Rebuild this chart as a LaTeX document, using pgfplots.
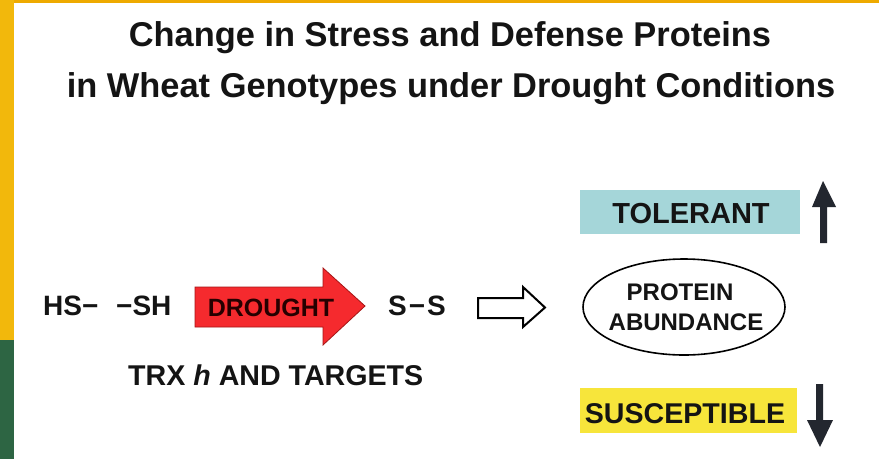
\documentclass[border=0pt]{standalone}
\usepackage{pgfplots}
\pgfplotsset{compat=1.18}
\usepackage{fontspec}
\setmainfont{Liberation Sans}
\definecolor{stripY}{HTML}{F2B80C}
\definecolor{stripG}{HTML}{2D6543}
\definecolor{topY}{HTML}{EEAA00}
\definecolor{arrRed}{HTML}{F52A2E}
\definecolor{arrRedD}{HTML}{A51515}
\definecolor{tolBlue}{HTML}{A5D6D9}
\definecolor{susY}{HTML}{F7E53B}
\definecolor{arrDark}{HTML}{23272F}
\definecolor{txt}{HTML}{141414}
\begin{document}
\begin{tikzpicture}
\begin{axis}[width=879pt,height=459pt,scale only axis,
  xmin=0,xmax=879,ymin=0,ymax=459,y dir=reverse,
  hide axis,clip=false]
% background
\fill[white] (0,0) rectangle (879,459);
\fill[stripY] (0,0) rectangle (14,340);
\fill[stripG] (0,340) rectangle (14,459);
\fill[topY] (14,0) rectangle (879,3);
% title
\node[anchor=base,inner sep=0,text=txt,font=\bfseries\fontsize{34.4}{40}\selectfont] at (450,46) {Change in Stress and Defense Proteins};
\node[anchor=base,inner sep=0,text=txt,font=\bfseries\fontsize{34.4}{40}\selectfont] at (451,97) {in Wheat Genotypes under Drought Conditions};
% left chemistry
\node[anchor=base west,inner sep=0,text=txt,font=\bfseries\fontsize{28}{32}\selectfont] at (43,315) {HS−};
\node[anchor=base west,inner sep=0,text=txt,font=\bfseries\fontsize{28}{32}\selectfont] at (116,315) {−SH};
% red arrow
\filldraw[fill=arrRed,draw=arrRedD,line width=0.8pt] (195,287) -- (323,287) -- (323,268) -- (365,306) -- (323,345) -- (323,327) -- (195,327) -- cycle;
\node[anchor=base,inner sep=0,text=black!85!red,font=\bfseries\fontsize{25}{30}\selectfont] at (271,316) {DROUGHT};
\node[anchor=base,inner sep=0,text=txt,font=\bfseries\fontsize{28}{32}\selectfont] at (417,315) {S\kern2pt−\kern2pt S};
% hollow arrow
\draw[line width=2pt,black,line join=miter] (478,298) -- (523,298) -- (523,287) -- (545,307.5) -- (523,327) -- (523,318) -- (478,318) -- cycle;
% TRX
\node[anchor=base west,inner sep=0,text=txt,font=\bfseries\fontsize{28.6}{32}\selectfont] at (128,385) {TRX \textit{h} AND TARGETS};
% tolerant
\fill[tolBlue] (580,190) rectangle (800,234);
\node[anchor=base,inner sep=0,text=txt,font=\bfseries\fontsize{29}{32}\selectfont] at (691,223) {TOLERANT};
\fill[arrDark] (820,243) -- (827,243) -- (827,207) -- (836,207) -- (823,181) -- (812,207) -- (820,207) -- cycle;
% ellipse
\draw[line width=1.6pt,black] (684,307) ellipse [x radius=101pt, y radius=48pt];
\node[anchor=base,inner sep=0,text=txt,font=\bfseries\fontsize{24}{30}\selectfont] at (680,300) {PROTEIN};
\node[anchor=base,inner sep=0,text=txt,font=\bfseries\fontsize{24}{30}\selectfont] at (686,330) {ABUNDANCE};
% susceptible
\fill[susY] (580,388) rectangle (797,433);
\node[anchor=base,inner sep=0,text=txt,font=\bfseries\fontsize{28.6}{32}\selectfont] at (685,423) {SUSCEPTIBLE};
\fill[arrDark] (816,384) -- (823,384) -- (823,420) -- (833,420) -- (820,447) -- (807,420) -- (816,420) -- cycle;
\end{axis}
\end{tikzpicture}
\end{document}
